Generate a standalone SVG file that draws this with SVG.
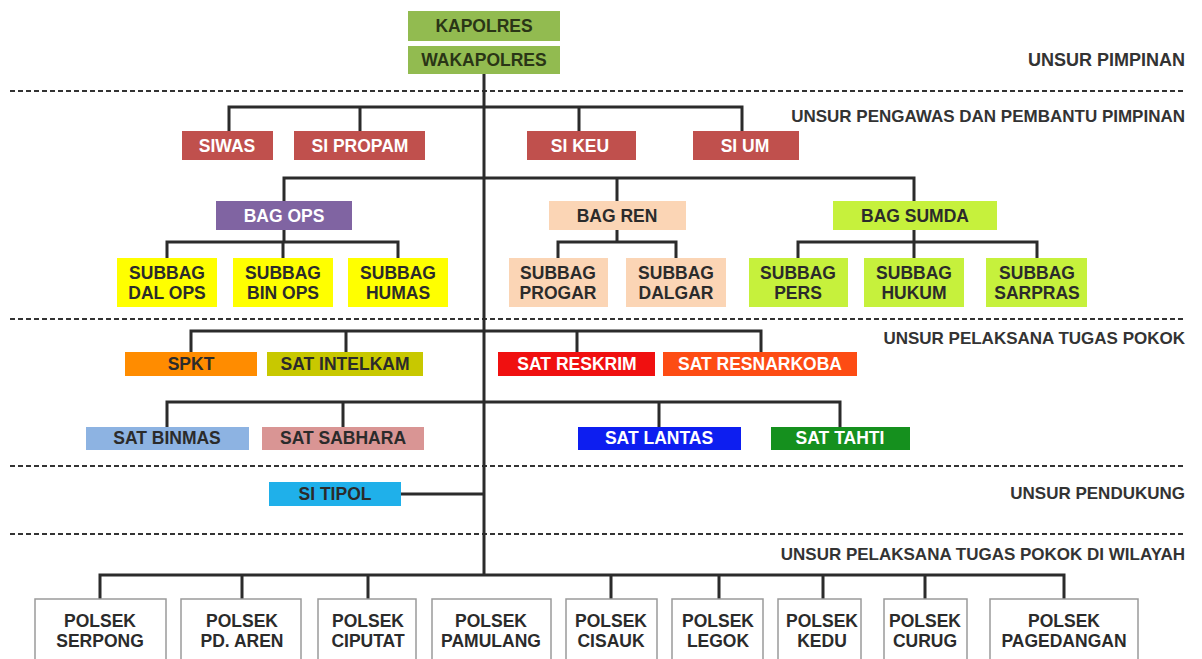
<svg xmlns="http://www.w3.org/2000/svg" width="1202" height="659" viewBox="0 0 1202 659">
<style>
text{font-family:"Liberation Sans",Arial,sans-serif;font-weight:bold;font-size:17.5px;text-anchor:middle}
.lbl{text-anchor:end;fill:#333;font-size:17px}
.dk{fill:#2b2b2b}
.wh{fill:#ffffff}
.gr{fill:#2a3516}
.ln{stroke:#2b2b2b;stroke-width:3;fill:none}
.dash{stroke:#333;stroke-width:2;stroke-dasharray:5 3;fill:none}
.pol{fill:#fff;stroke:#9a9a9a;stroke-width:1.5}
</style>
<rect width="1202" height="659" fill="#fff"/>
<g id="separators">
<line class="dash" x1="10" y1="91" x2="1185" y2="91"/>
<line class="dash" x1="10" y1="319" x2="1185" y2="319"/>
<line class="dash" x1="10" y1="466" x2="1185" y2="466"/>
<line class="dash" x1="10" y1="534" x2="1185" y2="534"/>
</g>
<g id="labels">
<text class="lbl" x="1185" y="66" style="font-size:18px">UNSUR PIMPINAN</text>
<text class="lbl" x="1185" y="122">UNSUR PENGAWAS DAN PEMBANTU PIMPINAN</text>
<text class="lbl" x="1185" y="344">UNSUR PELAKSANA TUGAS POKOK</text>
<text class="lbl" x="1185" y="499">UNSUR PENDUKUNG</text>
<text class="lbl" x="1185" y="560">UNSUR PELAKSANA TUGAS POKOK DI WILAYAH</text>
</g>
<g id="connectors" class="ln">
<path d="M484 74V575"/>
<path d="M229 131V107H742V131M360 107V131M579 107V131"/>
<path d="M284 201V178H914V201M617 178V201"/>
<path d="M284 230V242M167 258V242H398V258M283 242V258"/>
<path d="M617 230V242M558 258V242H676V258"/>
<path d="M914 230V258M798 258V242H1037V258"/>
<path d="M191 352V331H761V352M346 331V352M577 331V352"/>
<path d="M167 427V402H840V427M343 402V427M659 402V427"/>
<path d="M401 494H484"/>
<path d="M100 599V575H1064V599M242 575V599M368 575V599M611 575V599M719 575V599M823 575V599M925 575V599"/>
</g>
<g id="kapolres"><rect x="408" y="11" width="152" height="30" fill="#92bb50"/><text class="gr" x="484" y="32">KAPOLRES</text></g>
<g id="wakapolres"><rect x="408" y="46" width="152" height="28" fill="#92bb50"/><text class="gr" x="484" y="66">WAKAPOLRES</text></g>
<g id="siwas"><rect x="182" y="131" width="91" height="29" fill="#c0504d"/><text class="wh" x="227" y="152">SIWAS</text></g>
<g id="sipropam"><rect x="294" y="131" width="131" height="29" fill="#c0504d"/><text class="wh" x="360" y="152">SI PROPAM</text></g>
<g id="sikeu"><rect x="527" y="131" width="109" height="29" fill="#c0504d"/><text class="wh" x="580" y="152">SI KEU</text></g>
<g id="sium"><rect x="693" y="131" width="106" height="29" fill="#c0504d"/><text class="wh" x="745" y="152">SI UM</text></g>
<g id="bagops"><rect x="216" y="201" width="136" height="29" fill="#8064a2"/><text class="wh" x="284" y="222">BAG OPS</text></g>
<g id="bagren"><rect x="549" y="201" width="137" height="29" fill="#fbd5b5"/><text class="dk" x="617" y="222">BAG REN</text></g>
<g id="bagsumda"><rect x="833" y="201" width="164" height="29" fill="#c6f13c"/><text class="dk" x="915" y="222">BAG SUMDA</text></g>
<g id="subdalops"><rect x="117" y="258" width="100" height="49" fill="#ffff00"/><text class="dk" x="167" y="279">SUBBAG</text><text class="dk" x="167" y="299">DAL OPS</text></g>
<g id="subbinops"><rect x="233" y="258" width="100" height="49" fill="#ffff00"/><text class="dk" x="283" y="279">SUBBAG</text><text class="dk" x="283" y="299">BIN OPS</text></g>
<g id="subhumas"><rect x="348" y="258" width="100" height="49" fill="#ffff00"/><text class="dk" x="398" y="279">SUBBAG</text><text class="dk" x="398" y="299">HUMAS</text></g>
<g id="subprogar"><rect x="509" y="258" width="99" height="49" fill="#fbd5b5"/><text class="dk" x="558" y="279">SUBBAG</text><text class="dk" x="558" y="299">PROGAR</text></g>
<g id="subdalgar"><rect x="626" y="258" width="100" height="49" fill="#fbd5b5"/><text class="dk" x="676" y="279">SUBBAG</text><text class="dk" x="676" y="299">DALGAR</text></g>
<g id="subpers"><rect x="749" y="258" width="99" height="49" fill="#c6f13c"/><text class="dk" x="798" y="279">SUBBAG</text><text class="dk" x="798" y="299">PERS</text></g>
<g id="subhukum"><rect x="864" y="258" width="100" height="49" fill="#c6f13c"/><text class="dk" x="914" y="279">SUBBAG</text><text class="dk" x="914" y="299">HUKUM</text></g>
<g id="subsarpras"><rect x="986" y="258" width="101" height="49" fill="#c6f13c"/><text class="dk" x="1037" y="279">SUBBAG</text><text class="dk" x="1037" y="299">SARPRAS</text></g>
<g id="spkt"><rect x="125" y="352" width="132" height="24" fill="#ff8c00"/><text class="dk" x="191" y="370">SPKT</text></g>
<g id="satintelkam"><rect x="267" y="352" width="156" height="24" fill="#c8c800"/><text class="dk" x="345" y="370">SAT INTELKAM</text></g>
<g id="satreskrim"><rect x="498" y="352" width="157" height="24" fill="#f01010"/><text class="wh" x="577" y="370">SAT RESKRIM</text></g>
<g id="satresnarkoba"><rect x="663" y="352" width="194" height="24" fill="#fd4c14"/><text class="wh" x="760" y="370">SAT RESNARKOBA</text></g>
<g id="satbinmas"><rect x="86" y="427" width="163" height="23" fill="#8db3e2"/><text class="dk" x="167" y="444">SAT BINMAS</text></g>
<g id="satsabhara"><rect x="262" y="427" width="162" height="23" fill="#d99594"/><text class="dk" x="343" y="444">SAT SABHARA</text></g>
<g id="satlantas"><rect x="578" y="427" width="163" height="23" fill="#0d1ef0"/><text class="wh" x="659" y="444">SAT LANTAS</text></g>
<g id="sattahti"><rect x="771" y="427" width="139" height="23" fill="#15901e"/><text class="wh" x="840" y="444">SAT TAHTI</text></g>
<g id="sitipol"><rect x="269" y="482" width="132" height="24" fill="#1fb0ea"/><text class="dk" x="335" y="500">SI TIPOL</text></g>
<g id="pserpong"><rect class="pol" x="35" y="599" width="131" height="70"/><text class="dk" x="100" y="627">POLSEK</text><text class="dk" x="100" y="647">SERPONG</text></g>
<g id="ppdaren"><rect class="pol" x="181" y="599" width="120" height="70"/><text class="dk" x="242" y="627">POLSEK</text><text class="dk" x="242" y="647">PD. AREN</text></g>
<g id="pciputat"><rect class="pol" x="318" y="599" width="98" height="70"/><text class="dk" x="368" y="627">POLSEK</text><text class="dk" x="368" y="647">CIPUTAT</text></g>
<g id="ppamulang"><rect class="pol" x="432" y="599" width="119" height="70"/><text class="dk" x="491" y="627">POLSEK</text><text class="dk" x="491" y="647">PAMULANG</text></g>
<g id="pcisauk"><rect class="pol" x="566" y="599" width="91" height="70"/><text class="dk" x="611" y="627">POLSEK</text><text class="dk" x="611" y="647">CISAUK</text></g>
<g id="plegok"><rect class="pol" x="672" y="599" width="91" height="70"/><text class="dk" x="718" y="627">POLSEK</text><text class="dk" x="718" y="647">LEGOK</text></g>
<g id="pkedu"><rect class="pol" x="778" y="599" width="83" height="70"/><text class="dk" x="822" y="627">POLSEK</text><text class="dk" x="822" y="647">KEDU</text></g>
<g id="pcurug"><rect class="pol" x="884" y="599" width="83" height="70"/><text class="dk" x="925" y="627">POLSEK</text><text class="dk" x="925" y="647">CURUG</text></g>
<g id="ppagedangan"><rect class="pol" x="990" y="599" width="148" height="70"/><text class="dk" x="1064" y="627">POLSEK</text><text class="dk" x="1064" y="647">PAGEDANGAN</text></g>
</svg>
